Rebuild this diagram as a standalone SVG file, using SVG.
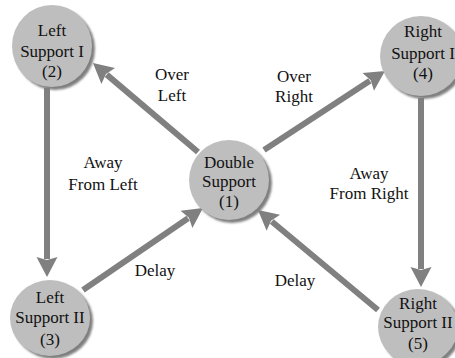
<svg xmlns="http://www.w3.org/2000/svg" width="455" height="358" viewBox="0 0 455 358">
  <defs>
    <style>
      .edge { stroke: #808080; stroke-width: 6; fill: none; marker-end: url(#ah); }
      .shadow { fill: #7f7f7f; filter: url(#blur); }
      .body { fill: #bebebe; }
    </style>
    <filter id="blur" x="-20%" y="-20%" width="140%" height="140%">
      <feGaussianBlur stdDeviation="1.2"/>
    </filter>
    <marker id="ah" markerUnits="userSpaceOnUse" markerWidth="30" markerHeight="30" viewBox="-5 -15 30 30" refX="0" refY="0" orient="auto">
      <path d="M-2,-10.5 L18,0 L-2,10.5 L1,0 Z" fill="#808080"/>
    </marker>
  </defs>

  <g id="connectors">
    <line class="edge" x1="198" y1="152" x2="106.7" y2="74.6"/>
    <line class="edge" x1="264" y1="150" x2="369.9" y2="80.8"/>
    <line class="edge" x1="47" y1="88" x2="47" y2="259"/>
    <line class="edge" x1="421" y1="98" x2="421" y2="269"/>
    <line class="edge" x1="83" y1="290" x2="188.1" y2="218.2"/>
    <line class="edge" x1="378" y1="310" x2="271.8" y2="221.5"/>
  </g>

  <g font-family="'Liberation Serif', 'Times New Roman', 'DejaVu Serif', serif" font-size="17" fill="#111" text-anchor="middle">
  <g id="labels">
    <text x="172" y="80">Over</text>
    <text x="172" y="101">Left</text>
    <text x="294" y="82">Over</text>
    <text x="294" y="102">Right</text>
    <text x="103" y="168">Away</text>
    <text x="103" y="190">From Left</text>
    <text x="369" y="179">Away</text>
    <text x="369" y="199">From Right</text>
    <text x="155" y="276">Delay</text>
    <text x="295" y="286">Delay</text>
  </g>

  <g id="node-double-support">
    <ellipse class="shadow" cx="232" cy="183" rx="40" ry="40"/>
    <ellipse class="body" cx="229" cy="180" rx="40" ry="40"/>
    <text x="229" y="168">Double</text>
    <text x="229" y="187">Support</text>
    <text x="229" y="207">(1)</text>
  </g>

  <g id="node-left-support-1">
    <ellipse class="shadow" cx="55" cy="49" rx="40" ry="41"/>
    <ellipse class="body" cx="52" cy="46" rx="40" ry="41"/>
    <text x="52" y="36">Left</text>
    <text x="52" y="57">Support I</text>
    <text x="52" y="77">(2)</text>
  </g>

  <g id="node-left-support-2">
    <ellipse class="shadow" cx="53" cy="321" rx="40" ry="38"/>
    <ellipse class="body" cx="50" cy="318" rx="40" ry="38"/>
    <text x="50" y="303">Left</text>
    <text x="50" y="323">Support II</text>
    <text x="50" y="345">(3)</text>
  </g>

  <g id="node-right-support-1">
    <ellipse class="shadow" cx="424" cy="59" rx="41" ry="40"/>
    <ellipse class="body" cx="421" cy="56" rx="41" ry="40"/>
    <text x="423" y="37">Right</text>
    <text x="423" y="59">Support I</text>
    <text x="423" y="79">(4)</text>
  </g>

  <g id="node-right-support-2">
    <ellipse class="shadow" cx="421" cy="330" rx="40" ry="38"/>
    <ellipse class="body" cx="418" cy="327" rx="40" ry="38"/>
    <text x="418" y="309">Right</text>
    <text x="418" y="328">Support II</text>
    <text x="418" y="349">(5)</text>
  </g>
  </g>
</svg>
